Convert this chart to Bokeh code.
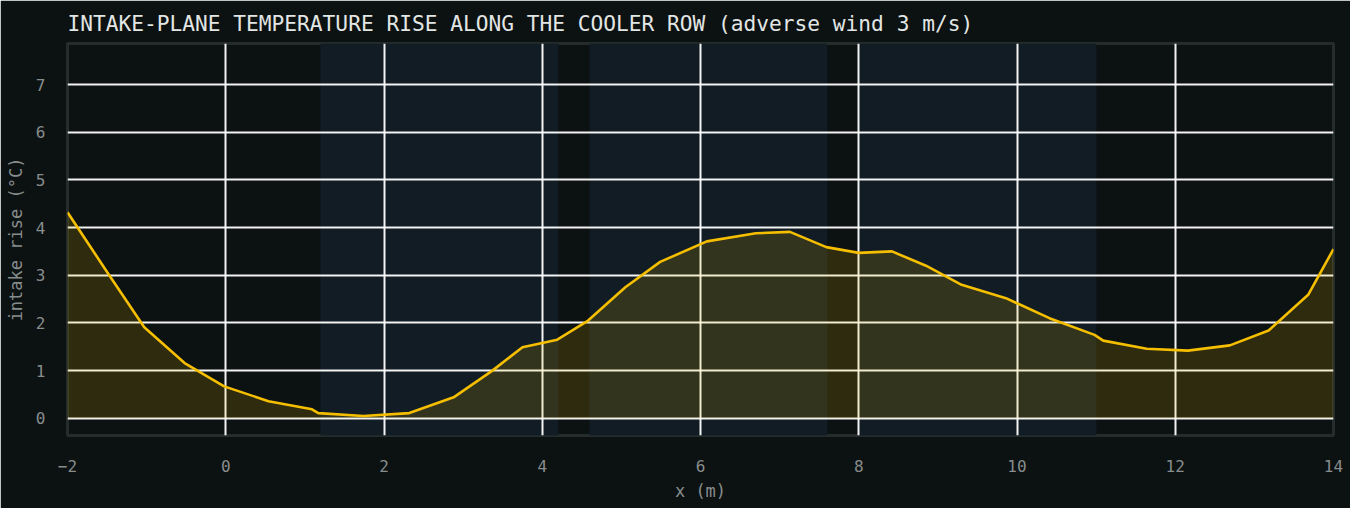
from bokeh.plotting import figure
from bokeh.models import BoxAnnotation, Range1d, FixedTicker
from bokeh.embed import file_html
from bokeh.resources import INLINE

# ---- data ----
x_m = [-2.0, -1.5, -1.03, -0.52, -0.02, 0.54, 1.09, 1.17, 1.74, 2.32, 2.88, 3.37,
       3.75, 4.19, 4.58, 5.05, 5.49, 6.08, 6.70, 7.13, 7.59, 8.0, 8.42, 8.85,
       9.30, 9.86, 10.41, 10.98, 11.09, 11.64, 12.16, 12.69, 13.18, 13.68, 14.0]
rise_c = [4.32, 3.07, 1.91, 1.16, 0.67, 0.36, 0.19, 0.11, 0.05, 0.11, 0.44, 1.0,
          1.49, 1.65, 2.05, 2.75, 3.28, 3.71, 3.88, 3.91, 3.59, 3.47, 3.50, 3.20,
          2.80, 2.52, 2.10, 1.75, 1.63, 1.46, 1.42, 1.53, 1.84, 2.59, 3.55]
band_left = [1.2, 4.6, 8.0]
band_right = [4.2, 7.6, 11.0]
x_ticks = [-2, 0, 2, 4, 6, 8, 10, 12, 14]
y_ticks = [0, 1, 2, 3, 4, 5, 6, 7]

FONT = "DejaVu Sans Mono"
BG = "#0c1112"

p = figure(width=1350, height=508, output_backend="svg", toolbar_location=None,
           x_range=Range1d(-2, 14), y_range=Range1d(-0.36, 7.86),
           title="INTAKE-PLANE TEMPERATURE RISE ALONG THE COOLER ROW (adverse wind 3 m/s)",
           min_border_left=67, min_border_right=17, min_border_top=42, min_border_bottom=73)

p.background_fill_color = BG
p.border_fill_color = BG
p.outline_line_color = "#252d2c"
p.outline_line_width = 3

p.title.text_font = FONT
p.title.text_font_size = "21.2px"
p.title.text_font_style = "normal"
p.title.text_color = "#e2e6e4"
p.title.offset = 0
p.title.standoff = 16

for l, r in zip(band_left, band_right):
    p.add_layout(BoxAnnotation(left=l, right=r, level="image",
                               fill_color="#111c24", fill_alpha=1.0,
                               line_color="#1a2935", line_width=1))

p.varea(x=x_m, y1=0, y2=rise_c, fill_color="#f2c200", fill_alpha=0.15)
p.line(x_m, rise_c, line_color="#f5bf00", line_width=2.6)

for g in (p.xgrid, p.ygrid):
    g.grid_line_color = "#ffffff"
    g.grid_line_width = 2
    g.grid_line_alpha = 0.95

p.xaxis.ticker = FixedTicker(ticks=x_ticks)
p.yaxis.ticker = FixedTicker(ticks=y_ticks)

for ax in (p.xaxis[0], p.yaxis[0]):
    ax.axis_line_color = None
    ax.major_tick_line_color = None
    ax.minor_tick_line_color = None
    ax.major_tick_out = 0
    ax.minor_tick_out = 0
    ax.major_tick_in = 0
    ax.major_label_text_font = FONT
    ax.major_label_text_font_size = "16px"
    ax.major_label_text_color = "#878d8c"
    ax.axis_label_text_font = FONT
    ax.axis_label_text_font_size = "17px"
    ax.axis_label_text_font_style = "normal"
    ax.axis_label_text_color = "#878d8c"

p.xaxis.major_label_standoff = 24
p.xaxis.axis_label_standoff = 6
p.yaxis.major_label_standoff = 22
p.yaxis.axis_label_standoff = 7

p.xaxis.axis_label = "x (m)"
p.yaxis.axis_label = "intake rise (°C)"

open("out.html", "w").write(file_html(p, INLINE))
